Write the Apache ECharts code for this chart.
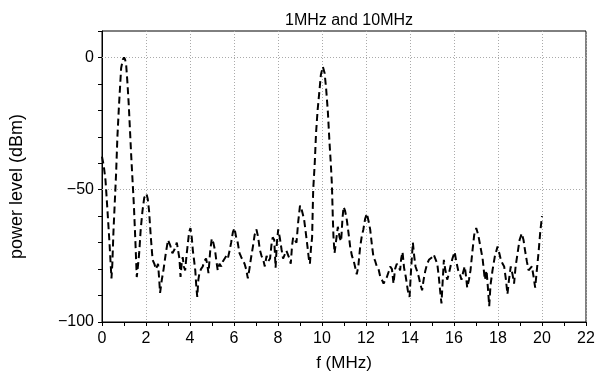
<!DOCTYPE html>
<html>
<head>
<meta charset="utf-8">
<script src="https://cdn.jsdelivr.net/npm/echarts@6/dist/echarts.min.js"></script>
<style>
  html, body { margin: 0; padding: 0; background: #fff; }
  #chart { width: 596px; height: 375px; }
</style>
</head>
<body>
<div id="chart"></div>
<script>
// spectrum: frequency (MHz) and power level (dBm)
var freq = [
  0.00, 0.08, 0.16, 0.25, 0.34, 0.40, 0.43, 0.47, 0.52, 0.58, 0.64, 0.70, 0.77, 0.87, 0.95,
  1.00, 1.05, 1.10, 1.16, 1.22, 1.33, 1.45, 1.52, 1.58, 1.62, 1.69, 1.76, 1.84, 1.92,
  2.02, 2.08, 2.14, 2.22, 2.30, 2.38, 2.45, 2.55, 2.60, 2.64, 2.72, 2.80, 2.90,
  3.00, 3.10, 3.20, 3.30, 3.40, 3.45, 3.52, 3.57, 3.62, 3.67, 3.72, 3.78, 3.84, 3.90, 3.96,
  4.02, 4.08, 4.13, 4.19, 4.24, 4.29, 4.33, 4.38, 4.43, 4.50, 4.58, 4.65, 4.73, 4.78, 4.84, 4.92, 4.99,
  5.06, 5.14, 5.20, 5.26, 5.34, 5.42, 5.50, 5.57, 5.65, 5.72, 5.80, 5.87, 5.95,
  6.02, 6.10, 6.17, 6.25, 6.33, 6.40, 6.48, 6.55, 6.63, 6.70, 6.77, 6.86, 6.94,
  7.02, 7.10, 7.17, 7.25, 7.33, 7.40, 7.48, 7.56, 7.64, 7.70, 7.76, 7.83, 7.89, 7.95,
  8.01, 8.08, 8.16, 8.23, 8.31, 8.38, 8.46, 8.52, 8.58, 8.64, 8.69, 8.76, 8.84, 8.92,
  9.00, 9.06, 9.12, 9.19, 9.26, 9.34, 9.40, 9.45, 9.50, 9.55, 9.60, 9.67, 9.73, 9.80, 9.89, 9.95,
  10.04, 10.12, 10.19, 10.27, 10.34, 10.40, 10.45, 10.49, 10.52, 10.57, 10.60, 10.66, 10.72, 10.80, 10.87, 10.93, 10.98,
  11.05, 11.13, 11.20, 11.28, 11.36, 11.43, 11.50, 11.58, 11.65, 11.73, 11.80, 11.88, 11.96,
  12.04, 12.12, 12.19, 12.27, 12.34, 12.42, 12.49, 12.57, 12.65, 12.72, 12.80, 12.88, 12.95,
  13.03, 13.10, 13.18, 13.25, 13.32, 13.40, 13.48, 13.55, 13.60, 13.66, 13.73, 13.81, 13.90, 13.98,
  14.05, 14.13, 14.19, 14.25, 14.33, 14.40, 14.48, 14.55, 14.62, 14.70, 14.78, 14.86, 14.94,
  15.01, 15.08, 15.16, 15.24, 15.31, 15.38, 15.43, 15.49, 15.54, 15.60, 15.69, 15.76, 15.84, 15.93,
  16.03, 16.10, 16.19, 16.27, 16.34, 16.42, 16.49, 16.55, 16.60, 16.68, 16.75, 16.84, 16.92,
  17.01, 17.10, 17.20, 17.30, 17.40, 17.48, 17.55, 17.60, 17.66, 17.75, 17.86, 17.98,
  18.06, 18.13, 18.21, 18.28, 18.36, 18.43, 18.50, 18.58, 18.66, 18.73, 18.80, 18.89, 18.98,
  19.08, 19.16, 19.23, 19.31, 19.39, 19.46, 19.54, 19.62, 19.69, 19.77, 19.84, 19.92, 20.00
]
var power = [
  -37.5, -41, -46.5, -58, -70, -79, -83.5, -78, -66, -55, -44, -30, -18.5, -4, -0.8,
  0, -0.8, -3, -10, -18.5, -37.5, -56, -70, -83, -80, -74, -65, -58, -53,
  -51.5, -53.5, -58, -68, -76.5, -78, -80, -78, -84, -89, -84, -80, -74,
  -69, -71, -74, -72.5, -70, -70, -76, -83, -78, -75.5, -79, -80.5, -75, -70.5, -66,
  -64.5, -68, -73, -77, -80.5, -87, -90.5, -84, -81.5, -80, -79, -77, -76, -78, -81.5, -73, -68.5,
  -70, -73, -77, -80.5, -78, -79, -77, -76.5, -75, -76, -73, -70, -66,
  -64.5, -68, -70, -74, -75.5, -76, -78, -80, -83.5, -80, -76, -71.5, -67,
  -65, -68, -72.5, -75, -76.5, -79, -75, -77, -76, -71, -68, -69, -79.5, -70,
  -65, -68, -72.5, -76, -76.5, -73, -73, -76, -78, -71, -68, -69, -70, -62,
  -56, -57, -59, -61.5, -66, -71.5, -76, -78, -72, -68, -50, -40, -28.5, -20, -12, -6.5,
  -3.5, -6, -12, -21, -32, -40, -48, -60, -67.5, -74, -74, -68, -64, -68, -69.5, -61, -56.5,
  -58, -61.5, -66, -71.5, -75, -76.5, -79, -82, -79, -72, -68, -65, -61,
  -59, -62, -65, -71, -75.5, -77, -79, -80, -83, -84, -85.5, -84, -83,
  -81, -79, -80, -85.5, -80, -78, -79, -80.5, -76, -73.5, -79.5, -83, -88, -90.5,
  -80, -70, -75, -79, -81, -83, -86, -88, -84, -80.5, -78, -76.5, -76,
  -75.5, -74.5, -74, -78, -83, -89, -93, -84, -76.5, -80, -84, -82, -79, -76,
  -73.5, -77, -80.5, -82, -84, -81, -79, -83, -87, -84, -80.5, -73, -67,
  -64.5, -67, -71.5, -76, -84, -80.5, -88, -94, -86, -80.5, -75, -71.5,
  -74, -76.5, -78, -79, -84, -89.5, -84, -79, -82, -85.5, -79, -74, -69,
  -66.5, -69, -73, -77, -80.5, -80, -79, -83, -87, -80, -74, -66, -60
]
var yLabelValues = [0, -50, -100]
var yGridValues = [0, -50]
var titleText = '1MHz and 10MHz'

var fontFamily = '"Liberation Sans", Arial, Helvetica, sans-serif'
var chart = echarts.init(document.getElementById('chart'), null, { renderer: 'canvas' })

var seriesData = freq.map(function (f, i) { return [f, power[i]] })
var gridDotted = { color: '#aaa', type: [1, 2], width: 1 }

chart.setOption({
  animation: false,
  backgroundColor: '#fff',
  title: {
    text: titleText,
    left: 344,
    top: 8,
    textAlign: 'center',
    textStyle: { fontFamily: fontFamily, fontSize: 16, fontWeight: 'normal', color: '#000' }
  },
  grid: {
    left: 102,
    right: 10,
    top: 31,
    bottom: 53,
    show: true,
    borderColor: '#000',
    borderWidth: 1,
    containLabel: false,
    outerBoundsMode: 'none'
  },
  xAxis: {
    type: 'value',
    min: 0,
    max: 22,
    interval: 2,
    name: 'f (MHz)',
    nameLocation: 'middle',
    nameGap: 33,
    nameTextStyle: { fontFamily: fontFamily, fontSize: 17, color: '#000' },
    axisLine: { show: true, onZero: false, lineStyle: { color: '#000', width: 1 } },
    axisTick: { show: true, inside: false, length: 4, lineStyle: { color: '#000' } },
    minorTick: { show: true, splitNumber: 2, length: 4, lineStyle: { color: '#000' } },
    axisLabel: { fontFamily: fontFamily, fontSize: 16, color: '#000', margin: 9 },
    splitLine: { show: true, lineStyle: gridDotted }
  },
  yAxis: {
    type: 'value',
    min: -100,
    max: 10,
    interval: 10,
    name: 'power level (dBm)',
    nameLocation: 'middle',
    nameGap: 76,
    // right padding nudges the rotated name a little lower, as in the picture
    nameTextStyle: { fontFamily: fontFamily, fontSize: 18, color: '#000', padding: [0, 20, 0, 0] },
    axisLine: { show: true, onZero: false, lineStyle: { color: '#000', width: 1 } },
    axisTick: { show: true, inside: false, length: 4, lineStyle: { color: '#000' } },
    axisLabel: {
      fontFamily: fontFamily, fontSize: 16, color: '#000', margin: 8,
      formatter: function (v) {
        if (yLabelValues.indexOf(v) < 0) return ''
        return v < 0 ? '\u2212' + Math.abs(v) : String(v)
      }
    },
    splitLine: { show: false }
  },
  series: [{
    type: 'line',
    data: seriesData,
    symbol: 'none',
    smooth: false,
    z: 3,
    lineStyle: { color: '#000', width: 2, type: [7, 4] },
    // horizontal dotted grid lines at 0 and -50 only
    markLine: {
      silent: true,
      symbol: 'none',
      label: { show: false },
      lineStyle: gridDotted,
      z: 1,
      data: yGridValues.map(function (v) { return { yAxis: v } })
    }
  }]
})
</script>
</body>
</html>
